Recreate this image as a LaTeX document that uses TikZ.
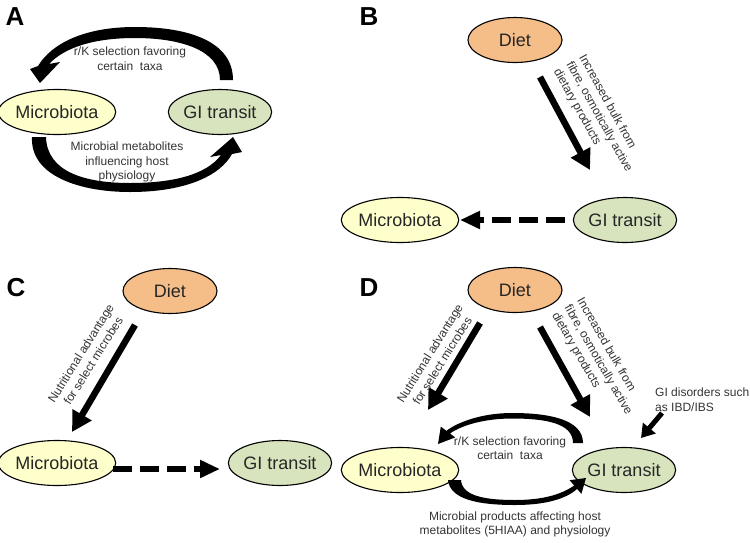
\documentclass[tikz,border=0pt]{standalone}
\usepackage{fontspec}
\setmainfont{Liberation Sans}
\usetikzlibrary{arrows.meta,shapes.geometric}
\definecolor{micfill}{HTML}{FFFFCC}
\definecolor{gifill}{HTML}{D7E4BD}
\definecolor{dietfill}{HTML}{F5BE88}
\definecolor{txt}{HTML}{333333}
\begin{document}
\begin{tikzpicture}[x=1pt,y=-1pt,
  ell/.style={ellipse, draw=black, line width=1.1pt, minimum width=94pt, minimum height=45pt, inner sep=0pt, font=\fontsize{18}{20}\selectfont, text=black!85},
  mic/.style={ell, fill=micfill},
  git/.style={ell, fill=gifill},
  diet/.style={ell, fill=dietfill},
  lbl/.style={font=\fontsize{12}{14.5}\selectfont, text=txt, align=center, inner sep=0pt},
  plab/.style={font=\bfseries\fontsize{26}{26}\selectfont, inner sep=0pt},
  bigarrow/.style={line width=6.5pt, -{Triangle[width=21pt,length=20pt]}},
  smallarrow/.style={line width=5pt, -{Triangle[width=16pt,length=13pt]}},
  dasharrow/.style={line width=6pt, dash pattern=on 19pt off 8pt, -{Triangle[width=17pt,length=20pt]}},
  curved/.style={fill=black, draw=none}
]
\useasboundingbox (0,0) rectangle (750,542);

% panel labels
\node[plab] (labA) at (15,17) {A};
\node[plab] (labB) at (369,17) {B};
\node[plab] (labC) at (16,288) {C};
\node[plab] (labD) at (369,288) {D};

% ---------- Panel A ----------
\node[mic] (micA) at (57,112) {Microbiota};
\node[git] (giA) at (220,112) {GI transit};
\fill[curved] (233,80) .. controls (233,42) and (190,27) .. (135,27) .. controls (85,27) and (52,43) .. (38,66) -- (30,69) -- (40,83) -- (60,62) -- (49,64) .. controls (65,47) and (95,38) .. (135,38) .. controls (180,38) and (220,50) .. (220,80) -- cycle;
\fill[curved] (32,137) .. controls (30,176) and (80,192) .. (130,192) .. controls (185,192) and (220,176) .. (232,154) -- (242,152) -- (233,137) -- (210,157) -- (221,155) .. controls (207,174) and (175,183) .. (130,183) .. controls (85,183) and (47,172) .. (46,137) -- cycle;
\node[lbl] (tA1) at (130,58.5) {r/K selection favoring\\certain\ \ taxa};
\node[lbl] (tA2) at (127,162) {Microbial metabolites\\influencing host\\physiology};

% ---------- Panel B ----------
\node[diet] (dietB) at (515,40) {Diet};
\node[mic] (micB) at (400,220) {Microbiota};
\node[git] (giB) at (625,220) {GI transit};
\coordinate (b1s) at (540,77);
\coordinate (b1e) at (590,170);
\draw[bigarrow] (b1s) -- (b1e);
\node[lbl, align=left, rotate=-61] (tB) at (599,117) {Increased bulk from\\fibre, osmotically active\\dietary products};
\coordinate (b2s) at (565,220);
\coordinate (b2e) at (460,220);
\draw[dasharrow] (b2s) -- (b2e);

% ---------- Panel C ----------
\node[diet] (dietC) at (170,291) {Diet};
\node[mic] (micC) at (57,463) {Microbiota};
\node[git] (giC) at (280,463) {GI transit};
\coordinate (c1s) at (135,325);
\coordinate (c1e) at (72,432);
\draw[bigarrow] (c1s) -- (c1e);
\node[lbl, rotate=58] (tC) at (87,357) {Nutritional advantage\\for select microbes};
\coordinate (c2s) at (113,469);
\coordinate (c2e) at (220,469);
\draw[dasharrow] (c2s) -- (c2e);

% ---------- Panel D ----------
\node[diet] (dietD) at (515,290) {Diet};
\node[mic] (micD) at (400,470) {Microbiota};
\node[git] (giD) at (624,470) {GI transit};
\coordinate (d1s) at (480,323);
\coordinate (d1e) at (428,410);
\draw[bigarrow] (d1s) -- (d1e);
\coordinate (d2s) at (540,327);
\coordinate (d2e) at (590,417);
\draw[bigarrow] (d2s) -- (d2e);
\node[lbl, rotate=58] (tD1) at (436,357) {Nutritional advantage\\for select microbes};
\node[lbl, align=left, rotate=-60] (tD2) at (598,360) {Increased bulk from\\fibre, osmotically active\\dietary products};
\node[lbl, align=left, anchor=west] (tD3) at (655,399.5) {GI disorders such\\as IBD/IBS};
\coordinate (d3s) at (662,413);
\coordinate (d3e) at (641,438);
\draw[smallarrow] (d3s) -- (d3e);
\fill[curved] (583,443) .. controls (583,419) and (548,413) .. (512,413) .. controls (482,413) and (458,422) .. (446.4,430.8) -- (440.8,426.6) -- (438,444) -- (455.2,437.4) -- (450,433.5) .. controls (462,425) and (485,418.5) .. (512,418.5) .. controls (545,418.5) and (573,423) .. (573,443) -- cycle;
\fill[curved] (448,480) .. controls (450,500) and (480,505) .. (515,505) .. controls (545,505) and (566,499) .. (577.1,488.9) -- (581.4,493.8) -- (586,478) -- (569.6,480.2) -- (574.2,485.5) .. controls (560,495.5) and (540,500) .. (515,500) .. controls (485,500) and (462,496) .. (461,480) -- cycle;
\node[lbl] (tD4) at (510,448) {r/K selection favoring\\certain\ \ taxa};
\node[lbl] (tD5) at (515,524.5) {Microbial products affecting host\\metabolites (5HIAA) and physiology};
\end{tikzpicture}
\end{document}
